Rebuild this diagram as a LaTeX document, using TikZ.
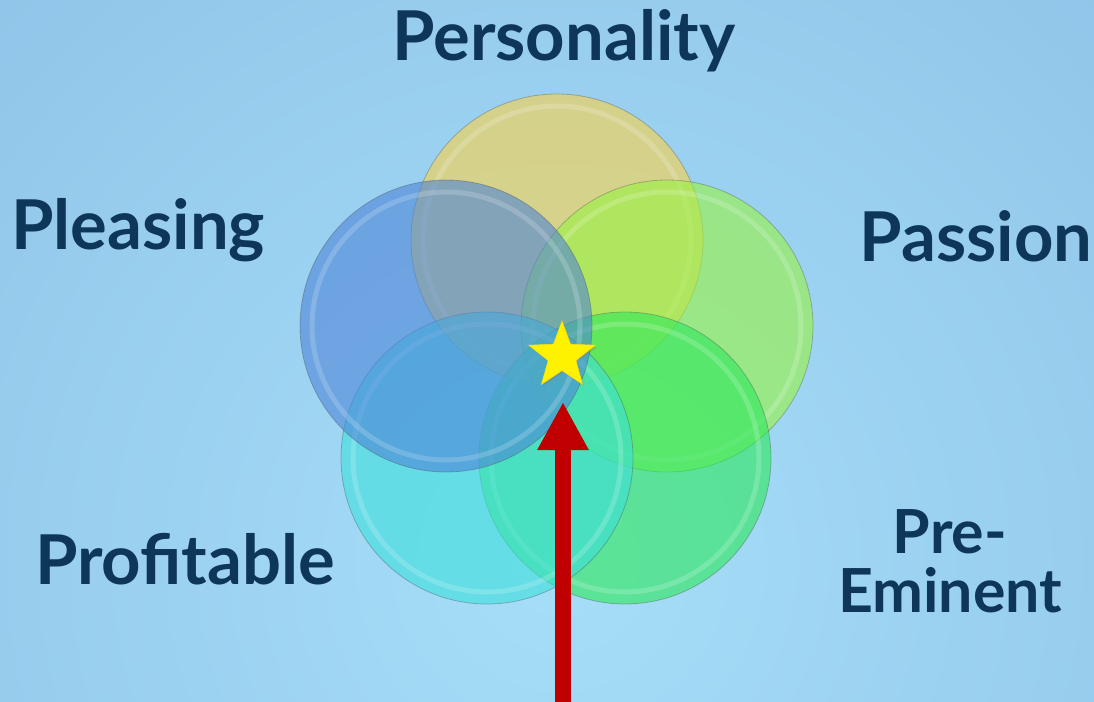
\documentclass[tikz,border=0pt]{standalone}
\usepackage{fontspec}
\setmainfont{Lato}
\usetikzlibrary{shapes.geometric,arrows.meta,shadows}

\definecolor{navy}{RGB}{14,54,88}
\definecolor{bgin}{RGB}{166,222,248}
\definecolor{bgout}{RGB}{124,172,218}
\definecolor{yellowball}{RGB}{252,210,73}
\definecolor{blueball}{RGB}{77,132,215}
\definecolor{limeball}{RGB}{152,243,65}
\definecolor{greenball}{RGB}{43,232,90}
\definecolor{tealball}{RGB}{60,223,220}
\definecolor{arrowred}{RGB}{192,0,0}

\tikzset{
  word/.style={font=\bfseries\fontsize{69}{60}\selectfont, text=navy, inner sep=0pt, anchor=base},
  ball/.style={circle, minimum size=292bp, inner sep=0pt, fill=#1, fill opacity=0.6,
    draw=black!70, draw opacity=0.35, line width=0.8bp,
    path picture={\draw[white, line width=5bp, opacity=0.18]
      (path picture bounding box.center) circle (134bp);}},
}

\begin{document}
\begin{tikzpicture}[x=1bp,y=-1bp]
% background
    \useasboundingbox (0,0) rectangle (1094,702);
    \shade[inner color=bgin, outer color=bgout] (-1024,-1024) rectangle (2144,2144);
    % circles
    \node[ball=yellowball] (personalityC) at (557,240) {};
    \node[ball=limeball] (passionC) at (667,326) {};
    \node[ball=greenball] (eminentC) at (625,458) {};
    \node[ball=tealball] (profitableC) at (487,458) {};
    \node[ball=blueball] (pleasingC) at (446,326) {};
    % star and arrow
    \node[star, star points=5, star point ratio=2.4, minimum size=70bp, inner sep=0pt,
      fill=yellow, draw=yellow!80!orange, line width=0.5bp,
      drop shadow={opacity=0.35, shadow xshift=1.5bp, shadow yshift=-2bp}] (goal) at (562,356) {};
    \coordinate (tail) at (563,702);
    \coordinate (tip) at (563,402);
    \draw[arrowred, line width=16bp, -{Triangle[width=48bp,length=48bp]}] (tail) -- (tip);
    % labels
    \node[word] (personality) at (564,61) {Personality};
    \node[word] (pleasing) at (138,249) {Pleasing};
    \node[word] (passion) at (976,261) {Passion};
    \node[word] (profitable) at (185,584) {Profitable};
    \node[word, font=\bfseries\fontsize{61}{60}\selectfont, align=center, anchor=north]
      (preeminent) at (950,509) {Pre-\\Eminent};
\end{tikzpicture}
\end{document}
